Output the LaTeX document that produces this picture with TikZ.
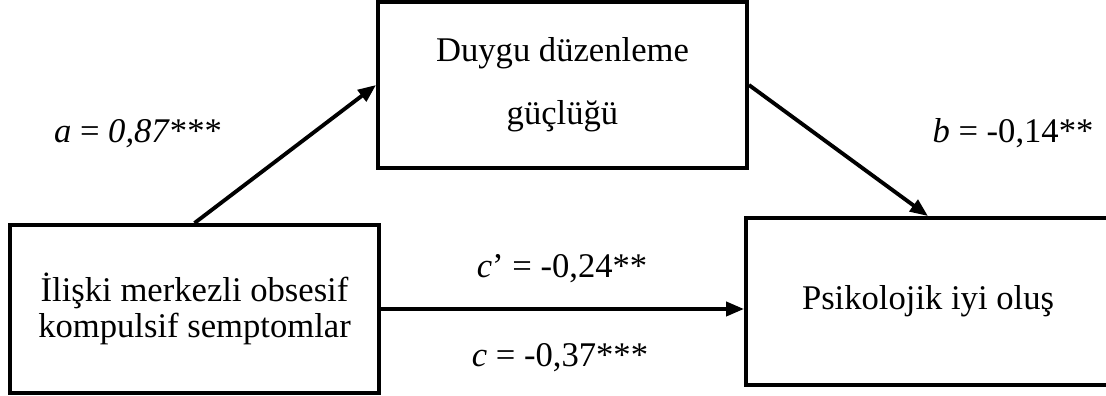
\documentclass[tikz,border=0pt]{standalone}
\usepackage{fontspec}
\setmainfont{Liberation Serif}
\usepackage{tikz}
\usetikzlibrary{arrows.meta, positioning, calc}

\begin{document}
\begin{tikzpicture}[
  box/.style={draw, line width=2.2pt, inner sep=0pt, align=center, font=\fontsize{19.7}{20.6}\selectfont},
  path/.style={line width=2.2pt, -{Triangle[length=0.36cm, width=0.28cm]}},
  coef/.style={anchor=base, font=\fontsize{19.7}{20.6}\selectfont},
]
\useasboundingbox (0,0) rectangle (22.12,7.92);

% Variables
\node[box, minimum width=7.38cm, minimum height=3.36cm] (obs) at (3.89, 1.74)
{İlişki merkezli obsesif\\kompulsif semptomlar};

\node[box, minimum width=7.38cm, minimum height=3.32cm] (ddg) at (11.25, 6.22)
{Duygu düzenleme\\[15pt]güçlüğü};

\node[box, minimum width=7.28cm, minimum height=3.34cm] (pio) at (18.56, 1.89)
{Psikolojik iyi oluş};

% Paths
\draw[path] (obs.north) -- (ddg.west);
\draw[path] (ddg.east) -- (pio.north);
\draw[path] (obs.east) -- (obs.east -| pio.west);

% Coefficients
\node[coef] (acoef) at (2.76, 5.06) {\textit{a} = \textit{0,87}***};
\node[coef] (bcoef) at (20.26, 5.06) {\textit{b} = -0,14**};
\node[coef] (cpcoef) at (11.24, 2.36) {\textit{c}’ = -0,24**};
\node[coef] (ccoef) at (11.2, 0.58) {\textit{c} = -0,37***};
\end{tikzpicture}
\end{document}
